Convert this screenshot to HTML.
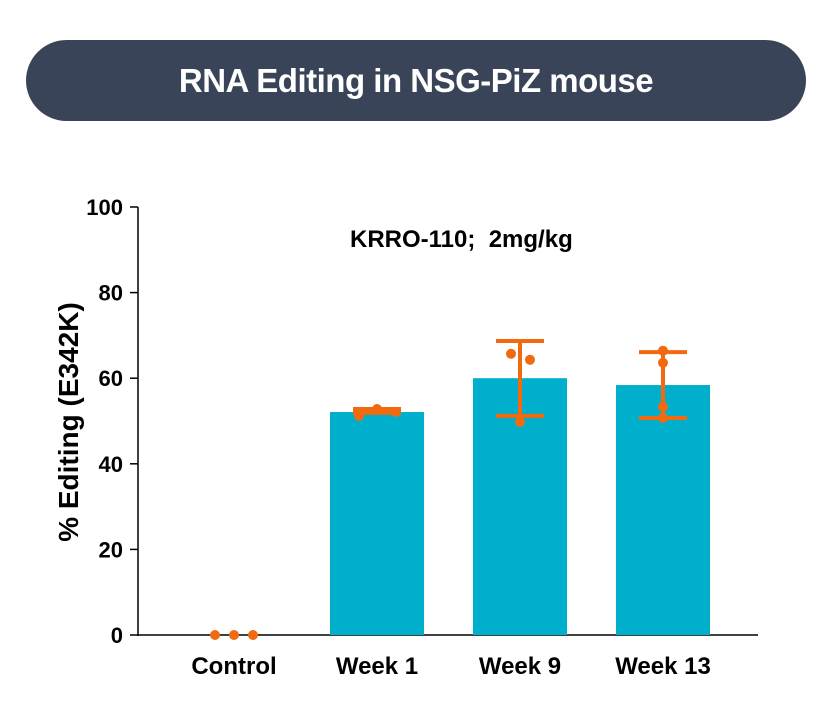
<!DOCTYPE html>
<html><head><meta charset="utf-8"><style>
body{margin:0;background:#fff;width:828px;height:722px;overflow:hidden;font-family:"Liberation Sans",sans-serif}
#banner{position:absolute;left:26px;top:40px;width:780px;height:81px;border-radius:41px;background:#3a4459;color:#fff;font-weight:bold;font-size:33px;text-align:center;line-height:81px;letter-spacing:-0.5px}
svg{position:absolute;left:0;top:0}
</style></head><body>
<div id="banner">RNA Editing in NSG-PiZ mouse</div>
<svg id="chart" width="828" height="722"></svg>
<script>
const categories=["Control","Week 1","Week 9","Week 13"];
const means=[0,52.1,60.0,58.4];
const errLow=[0,51.9,51.2,50.7];
const errHigh=[0,52.8,68.7,66.1];
const points=[[0,0,0],[51.2,52.8,52.1],[65.7,64.3,49.8],[66.4,63.6,53.3,50.7]];
const pointOffsets=[[-19,0,19],[-18,0,19],[-9,10,0],[0,0,0,0]];
const yTicks=[0,20,40,60,80,100];
const NS="http://www.w3.org/2000/svg";
const svg=document.getElementById('chart');
const y=v=>635-v*4.28;
const x=i=>234+i*143;
function mk(t,a,p){const e=document.createElementNS(NS,t);for(const k in a)e.setAttribute(k,a[k]);(p||svg).appendChild(e);return e;}
let ax=mk('line',{x1:138,y1:207,x2:138,y2:636,stroke:'#000','stroke-width':1.5});

let bx=mk('line',{x1:137,y1:635,x2:758,y2:635,stroke:'#000','stroke-width':1.5});

yTicks.forEach(v=>{
 let t=mk('line',{x1:130,y1:y(v),x2:138,y2:y(v),stroke:'#000','stroke-width':1.5});
 
 let l=mk('text',{x:123,y:y(v)+8,'text-anchor':'end','font-size':22,'font-weight':'bold',fill:'#000'});
 l.textContent=v;
 
});
let yt=mk('text',{x:0,y:0,transform:'translate(78,422) rotate(-90)','text-anchor':'middle','font-size':28,'font-weight':'bold'});
yt.textContent='% Editing (E342K)';

let an=mk('text',{x:350,y:247,'font-size':24,'font-weight':'bold',style:'white-space:pre'});
an.textContent='KRRO-110;  2mg/kg';

categories.forEach((c,i)=>{
 const cx=x(i);
 if(means[i]>0){
  let b=mk('rect',{x:cx-47,y:y(means[i]),width:94,height:635-y(means[i]),fill:'#00afcc'});
  
  let g=mk('g',{stroke:'#f26a10','stroke-width':4});
  
  mk('line',{x1:cx,y1:y(errHigh[i]),x2:cx,y2:y(errLow[i])},g);
  mk('line',{x1:cx-24,y1:y(errHigh[i]),x2:cx+24,y2:y(errHigh[i])},g);
  mk('line',{x1:cx-24,y1:y(errLow[i]),x2:cx+24,y2:y(errLow[i])},g);
 }
 points[i].forEach((v,j)=>{
  let p=mk('circle',{cx:cx+pointOffsets[i][j],cy:y(v),r:5,fill:'#f26a10'});
  
 });
 let l=mk('text',{x:cx,y:674,'text-anchor':'middle','font-size':24,'font-weight':'bold'});
 l.textContent=c;
 
});
</script>
</body></html>
